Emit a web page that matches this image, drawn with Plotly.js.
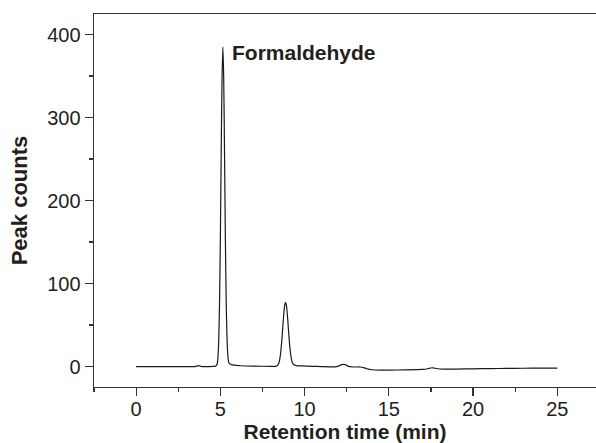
<!DOCTYPE html>
<html>
<head>
<meta charset="utf-8">
<script src="https://cdn.plot.ly/plotly-3.0.1.min.js"></script>
<style>html,body{margin:0;padding:0;background:#fff;}#chart{width:596px;height:443px;}</style>
</head>
<body>
<div id="chart"></div>
<script>
// Retention time (min)
const retentionTime = [
  0, 1, 2, 3, 3.5, 3.65, 3.75, 3.85, 4.0, 4.3, 4.6, 4.7, 4.8, 4.85, 4.9, 4.95,
  5.0, 5.05, 5.1, 5.15, 5.2, 5.25, 5.3, 5.35, 5.4, 5.45, 5.5, 5.6, 5.8, 6.2,
  7.0, 8.0, 8.27, 8.37, 8.47, 8.52, 8.57, 8.62, 8.67, 8.72, 8.77, 8.82, 8.87,
  8.92, 8.97, 9.02, 9.07, 9.12, 9.17, 9.22, 9.27, 9.37, 9.5, 9.8, 10.5, 11.0,
  11.8, 12.0, 12.2, 12.3, 12.45, 12.6, 12.9, 13.3, 13.5, 13.7, 14.0, 14.5, 15.0,
  16.0, 17.0, 17.3, 17.55, 17.75, 18.0, 18.5, 19.0, 20.0, 21.0, 22.0, 23.0, 24.0, 25.0
];
// Peak counts
const peakCounts = [
  0, 0, -0.1, 0, 0, 0.8, 1.2, 0.3, 0, 0, 0.2, 0.5, 2.5, 9, 29, 74,
  152, 255, 347, 385, 347, 255, 152, 76, 32, 12, 5, 2.8, 1.8, 1,
  0.5, 0.3, 0.3, 0.9, 4.1, 8.2, 14.8, 24.6, 37.2, 51.3, 64.5, 74, 77.5,
  74, 64.5, 51.3, 37.2, 24.6, 15.5, 9, 5, 2.2, 1.2, 0.8, 0.3, 0,
  -0.3, 0.5, 2.3, 2.8, 2.0, 0.2, -0.5, -0.5, -1.2, -2.6, -3.8, -4.2, -4.2,
  -4.0, -3.4, -2.6, -1.4, -2.0, -2.9, -3.1, -3.0, -2.7, -2.4, -2.2, -2.0, -1.9, -1.8
];
const peakLabel = "Formaldehyde";
const peakLabelPos = [5.56, 378];

const font = "Liberation Sans, Arial, Helvetica, sans-serif";
const ink = "#231f20";

Plotly.newPlot("chart", [{
  x: retentionTime,
  y: peakCounts,
  type: "scatter",
  mode: "lines",
  line: {color: "#1a1a1a", width: 1.2, shape: "spline", smoothing: 0.6},
  hoverinfo: "skip"
}], {
  width: 596, height: 443,
  margin: {l: 94, r: 0, t: 14, b: 56, pad: 0},
  paper_bgcolor: "#fff", plot_bgcolor: "#fff",
  showlegend: false,
  font: {family: font, color: ink, size: 20},
  xaxis: {
    range: [-2.5, 27.3],
    tickmode: "linear", tick0: 0, dtick: 5,
    ticks: "outside", ticklen: 8, tickwidth: 1.2, tickcolor: "#333",
    ticklabelstandoff: -4,
    minor: {tick0: 0, dtick: 2.5, ticks: "outside", ticklen: 4, tickwidth: 1.2, tickcolor: "#333", showgrid: false},
    showline: true, linecolor: "#333", linewidth: 1.4, mirror: true,
    showgrid: false, zeroline: false,
    tickfont: {size: 20, family: font, color: ink},
    title: {text: "<b>Retention time (min)</b>", font: {size: 21, family: font, color: ink}, standoff: 15}
  },
  yaxis: {
    range: [-24.6, 424.8],
    tickmode: "linear", tick0: 0, dtick: 100,
    ticks: "outside", ticklen: 8, tickwidth: 1.2, tickcolor: "#333",
    minor: {tick0: 0, dtick: 50, ticks: "outside", ticklen: 4, tickwidth: 1.2, tickcolor: "#333", showgrid: false},
    showline: true, linecolor: "#333", linewidth: 1.4, mirror: false,
    showgrid: false, zeroline: false,
    tickfont: {size: 20, family: font, color: ink},
    title: {text: "<b>Peak counts</b>", font: {size: 22, family: font, color: ink}, standoff: 13}
  },
  annotations: [{
    x: peakLabelPos[0], y: peakLabelPos[1], xref: "x", yref: "y",
    text: "<b>" + peakLabel + "</b>", showarrow: false,
    xanchor: "left", yanchor: "middle",
    font: {size: 21, family: font, color: ink}
  }]
}, {displayModeBar: false, staticPlot: true});
</script>
</body>
</html>
